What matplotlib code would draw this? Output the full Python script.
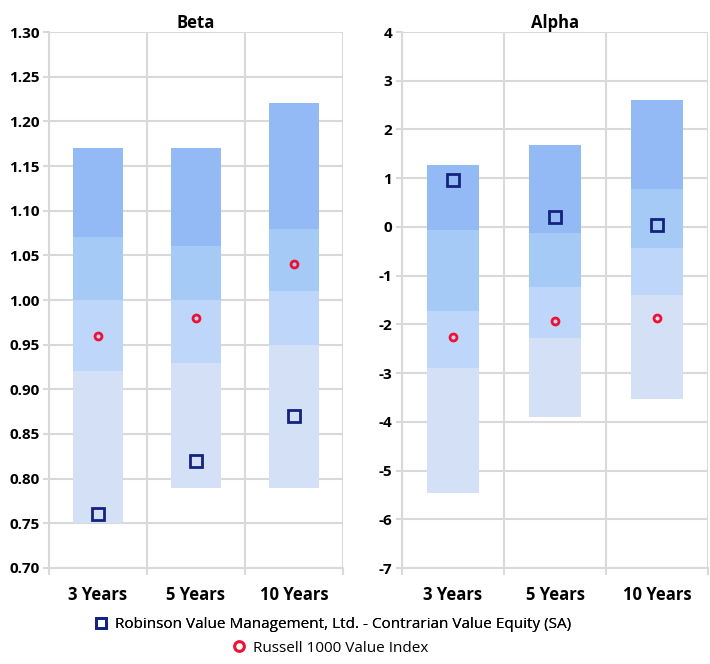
import numpy as np
import matplotlib.pyplot as plt
from matplotlib.lines import Line2D
from matplotlib.ticker import MultipleLocator

plt.rcParams.update({
    "font.family": "sans-serif",
    "font.sans-serif": ["Open Sans", "Noto Sans", "DejaVu Sans"],
    "axes.unicode_minus": False,
})

periods = ["3 Years", "5 Years", "10 Years"]

# band edges per period: max, 25th, median, 75th, min
beta_edges = np.array([
    [1.17, 1.07, 1.00, 0.92, 0.75],
    [1.17, 1.06, 1.00, 0.93, 0.79],
    [1.22, 1.08, 1.01, 0.95, 0.79],
])
beta_fund = [0.76, 0.82, 0.87]
beta_index = [0.96, 0.98, 1.04]

alpha_edges = np.array([
    [1.28, -0.07, -1.73, -2.90, -5.47],
    [1.69, -0.12, -1.23, -2.27, -3.91],
    [2.60, 0.78, -0.43, -1.39, -3.53],
])
alpha_fund = [0.97, 0.20, 0.04]
alpha_index = [-2.25, -1.93, -1.86]

band_colors = ["#94baf5", "#a5caf6", "#bed6f9", "#d3e0f6"]
fund_color = "#13237e"
index_color = "#ee1133"
grid_color = "#d9d9d9"

fig = plt.figure(figsize=(7.10, 6.64), dpi=100)
ax_beta = fig.add_axes([49/710, 1-568/664, (343-49)/710, (568-32)/664])
ax_alpha = fig.add_axes([402/710, 1-568/664, (708-402)/710, (568-32)/664])


def draw_panel(ax, edges, fund, index, title, ylim, step, fmt):
    x = np.arange(len(periods))
    for k in range(4):
        top = edges[:, k]
        bot = edges[:, k + 1]
        ax.bar(x, top - bot, bottom=bot, width=0.51, color=band_colors[k],
               edgecolor="none", zorder=2)
    ax.plot(x, fund, ls="none", marker="s", ms=8, mfc="none", mec=fund_color,
            mew=2.0, zorder=4)
    ax.plot(x, index, ls="none", marker="o", ms=5, mfc="none", mec=index_color,
            mew=2.0, zorder=4)

    ax.set_xlim(-0.5, len(periods) - 0.5)
    ax.set_ylim(*ylim)
    ax.yaxis.set_major_locator(MultipleLocator(step))
    ax.yaxis.set_major_formatter(fmt)
    ax.set_xticks(x)
    ax.set_xticklabels(periods)
    ax.set_xticks(np.arange(-0.5, len(periods)), minor=True)
    ax.tick_params(axis="x", which="major", length=0, labelsize=12, pad=13)
    ax.tick_params(axis="x", which="minor", length=5, width=1.5, color=grid_color)
    ax.tick_params(axis="y", length=4, width=1.5, color=grid_color, labelsize=11, pad=3)
    for lab in ax.get_xticklabels() + ax.get_yticklabels():
        lab.set_fontweight("bold")

    ax.grid(axis="y", color=grid_color, lw=1.5, zorder=0)
    ax.grid(axis="x", which="minor", color=grid_color, lw=1.5, zorder=0)
    ax.set_axisbelow(True)
    for s in ["top", "right"]:
        ax.spines[s].set_visible(False)
    for s in ["left", "bottom"]:
        ax.spines[s].set_color(grid_color)
        ax.spines[s].set_linewidth(1.5)
    ax.set_title(title, fontsize=12, fontweight="bold", pad=3)


draw_panel(ax_beta, beta_edges, beta_fund, beta_index, "Beta", (0.70, 1.30), 0.05, "{x:.2f}")
draw_panel(ax_alpha, alpha_edges, alpha_fund, alpha_index, "Alpha", (-7, 4), 1, "{x:.0f}")

h_fund = Line2D([], [], ls="none", marker="s", ms=7, mfc="none", mec=fund_color, mew=2.0)
h_index = Line2D([], [], ls="none", marker="o", ms=7, mfc="none", mec=index_color, mew=2.2)
leg1 = fig.legend([h_fund], ["Robinson Value Management, Ltd. - Contrarian Value Equity (SA)"],
                  loc="center", bbox_to_anchor=(332/710, 1-625/664), frameon=False,
                  fontsize=11, handletextpad=0.4, handlelength=1.0)
fig.add_artist(leg1)
fig.legend([h_index], ["Russell 1000 Value Index"],
           loc="center", bbox_to_anchor=(330/710, 1-648/664), frameon=False,
           fontsize=11, handletextpad=0.4, handlelength=1.0)

fig.savefig("out.png", dpi=100)
